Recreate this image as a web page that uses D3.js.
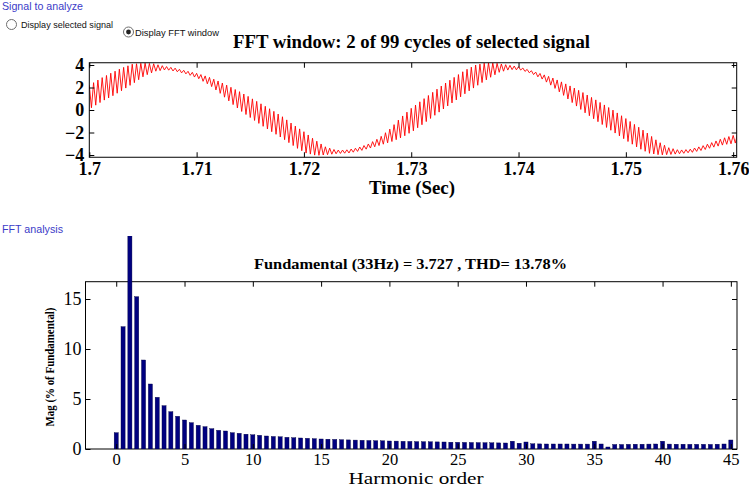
<!DOCTYPE html>
<html><head><meta charset="utf-8">
<script src="https://cdn.jsdelivr.net/npm/d3@7"></script>
<style>html,body{margin:0;padding:0;background:#fff;overflow:hidden}</style>
</head><body>
<svg id="c" width="749" height="488"></svg>
<script>
// ---------- data ----------
const rippleStepMs = 0.4;   // one ripple per 0.4 ms, peak then trough
const ripplePeaks = [
 2.20,2.43,2.66,2.88,3.07,3.27,3.45,3.63,3.79,3.93,
 4.07,4.11,4.15,4.16,4.14,4.11,4.02,3.94,3.86,3.79,
 3.72,3.62,3.53,3.44,3.35,3.26,3.15,3.03,2.90,2.74,
 2.58,2.40,2.21,2.02,1.82,1.63,1.42,1.21,0.99,0.77,
 0.55,0.33,0.11,-0.12,-0.36,-0.60,-0.88,-1.16,-1.43,-1.68,
 -1.93,-2.22,-2.51,-2.77,-3.02,-3.27,-3.39,-3.51,-3.56,-3.56,
 -3.54,-3.47,-3.40,-3.29,-3.16,-3.02,-2.81,-2.60,-2.34,-2.02,
 -1.70,-1.30,-0.90,-0.53,-0.19,0.15,0.44,0.73,1.01,1.29,
 1.57,1.85,2.13,2.40,2.65,2.90,3.15,3.40,3.62,3.81,
 4.00,4.08,4.16,4.19,4.17,4.15,4.09,4.03,3.97,3.91,
 3.85,3.73,3.61,3.49,3.37,3.25,3.12,2.99,2.84,2.67,
 2.50,2.32,2.14,1.95,1.75,1.55,1.33,1.12,0.90,0.67,
 0.45,0.22,-0.01,-0.26,-0.51,-0.76,-1.02,-1.28,-1.53,-1.79,
 -2.05,-2.35,-2.65,-2.91,-3.13,-3.35,-3.44,-3.53,-3.55,-3.52,
 -3.48,-3.38,-3.28,-3.17,-3.04,-2.90,-2.75,-2.60,-2.47,-2.36,
 -2.26,-2.16
];
const rippleTroughs = [
 0.20,0.43,0.66,0.88,1.07,1.27,1.49,1.71,1.95,2.19,
 2.43,2.69,2.95,3.14,3.30,3.45,3.50,3.56,3.54,3.47,
 3.40,3.30,3.21,3.08,2.93,2.78,2.55,2.33,2.08,1.78,
 1.48,1.14,0.81,0.48,0.18,-0.13,-0.40,-0.67,-0.93,-1.19,
 -1.45,-1.69,-1.93,-2.16,-2.40,-2.64,-2.90,-3.16,-3.41,-3.62,
 -3.83,-3.92,-4.01,-4.03,-4.00,-3.97,-3.93,-3.89,-3.86,-3.84,
 -3.82,-3.75,-3.68,-3.59,-3.48,-3.38,-3.27,-3.16,-3.04,-2.92,
 -2.80,-2.64,-2.48,-2.29,-2.07,-1.85,-1.58,-1.31,-1.03,-0.75,
 -0.47,-0.19,0.09,0.36,0.63,0.90,1.17,1.44,1.70,1.95,
 2.20,2.44,2.68,2.91,3.13,3.35,3.45,3.55,3.59,3.57,
 3.55,3.43,3.31,3.15,2.95,2.75,2.48,2.21,1.92,1.61,
 1.30,0.98,0.66,0.35,0.05,-0.25,-0.51,-0.78,-1.04,-1.29,
 -1.55,-1.80,-2.05,-2.30,-2.55,-2.80,-3.04,-3.28,-3.49,-3.67,
 -3.85,-3.91,-3.97,-3.99,-3.97,-3.95,-3.92,-3.89,-3.85,-3.80,
 -3.76,-3.68,-3.60,-3.51,-3.40,-3.30,-3.21,-3.12,-3.05,-3.00,
 -2.94,-2.88
];
const signalStart = 1.7;
const timeTicks = [1.7, 1.71, 1.72, 1.73, 1.74, 1.75, 1.76];
const timeTickLabels = ["1.7", "1.71", "1.72", "1.73", "1.74", "1.75", "1.76"];
const signalTicks = [-4, -2, 0, 2, 4];

const harmonicStep = 0.5;
const harmonicMag = [
 1.63, 12.23, 100, 15.23, 8.90, 6.50, 5.17, 4.33, 3.73, 3.27,
 2.90, 2.63, 2.37, 2.23, 2.03, 1.87, 1.80, 1.63, 1.57, 1.48,
 1.42, 1.37, 1.30, 1.25, 1.22, 1.17, 1.13, 1.10, 1.07, 1.03,
 1.00, 0.98, 0.96, 0.93, 0.91, 0.89, 0.87, 0.85, 0.83, 0.82,
 0.80, 0.79, 0.77, 0.76, 0.74, 0.73, 0.72, 0.71, 0.70, 0.68,
 0.67, 0.66, 0.65, 0.64, 0.63, 0.62, 0.61, 0.60, 0.78, 0.58,
 0.70, 0.52, 0.51, 0.50, 0.50, 0.50, 0.50, 0.49, 0.49, 0.49,
 0.78, 0.50, 0.20, 0.45, 0.45, 0.47, 0.48, 0.48, 0.49, 0.50,
 0.78, 0.49, 0.48, 0.48, 0.47, 0.47, 0.47, 0.46, 0.48, 0.50,
 0.90
];
const harmonicTicks = [0, 5, 10, 15, 20, 25, 30, 35, 40, 45];
const magTicks = [0, 5, 10, 15];

const titleText = "FFT window: 2 of 99 cycles of selected signal";
const fundText = "Fundamental (33Hz) = 3.727 , THD= 13.78%";

// ---------- drawing ----------
const svg = d3.select("#c");
const serif = "'Liberation Serif', 'Times New Roman', serif";
const sans = "'Liberation Sans', Arial, sans-serif";
const uiBlue = "#3c3cc8";

// UI labels
svg.append("text").attr("x", 2).attr("y", 10).attr("font-family", sans).attr("font-size", 11)
  .attr("fill", uiBlue).attr("textLength", 81).attr("lengthAdjust", "spacingAndGlyphs").text("Signal to analyze");
svg.append("circle").attr("cx", 11.5).attr("cy", 24.5).attr("r", 5).attr("fill", "#fff").attr("stroke", "#6e6e6e");
svg.append("text").attr("x", 21).attr("y", 27.5).attr("font-family", sans).attr("font-size", 9)
  .attr("fill", "#111").attr("textLength", 92).attr("lengthAdjust", "spacingAndGlyphs").text("Display selected signal");
svg.append("circle").attr("cx", 128.5).attr("cy", 32).attr("r", 5).attr("fill", "#fff").attr("stroke", "#6e6e6e");
svg.append("circle").attr("cx", 128.5).attr("cy", 32).attr("r", 2.4).attr("fill", "#222");
svg.append("text").attr("x", 135).attr("y", 35.5).attr("font-family", sans).attr("font-size", 9)
  .attr("fill", "#111").attr("textLength", 84).attr("lengthAdjust", "spacingAndGlyphs").text("Display FFT window");
svg.append("text").attr("x", 2).attr("y", 233).attr("font-family", sans).attr("font-size", 11)
  .attr("fill", uiBlue).attr("textLength", 61).attr("lengthAdjust", "spacingAndGlyphs").text("FFT analysis");

// ---------- top chart ----------
const T = {l: 89.3, r: 736.7, t: 62.75, b: 157.25};
const xTime = d3.scaleLinear().domain([1.7, 1.76033]).range([T.l, T.r]);
const ySig = d3.scaleLinear().domain([-4.2, 4.2]).range([T.b, T.t]);

svg.append("defs").append("clipPath").attr("id", "clipTop")
  .append("rect").attr("x", T.l).attr("y", T.t).attr("width", T.r - T.l).attr("height", T.b - T.t);

const pts = [];
ripplePeaks.forEach((p, i) => {
  pts.push({t: signalStart + (i * rippleStepMs) / 1000, v: p});
  pts.push({t: signalStart + ((i + 0.5) * rippleStepMs) / 1000, v: rippleTroughs[i]});
});
svg.append("path").datum(pts).attr("clip-path", "url(#clipTop)")
  .attr("fill", "none").attr("stroke", "#ff0000").attr("stroke-width", 0.9)
  .attr("d", d3.line().x(d => xTime(d.t)).y(d => ySig(d.v)));

svg.append("rect").attr("x", T.l).attr("y", T.t).attr("width", T.r - T.l).attr("height", T.b - T.t)
  .attr("fill", "none").attr("stroke", "#000").attr("stroke-width", 1);

function styleAxis(g, opts) {
  g.select(".domain").remove();
  g.selectAll(".tick line").attr("stroke", "#000").attr("stroke-width", 1);
  g.selectAll(".tick text").attr("font-family", serif).attr("font-size", opts.size)
    .attr("font-weight", opts.weight).attr("fill", "#000");
}
const fmtTime = (d, i) => timeTickLabels[i];
const topXB = svg.append("g").attr("transform", `translate(0,${T.b})`)
  .call(d3.axisBottom(xTime).tickValues(timeTicks).tickFormat(fmtTime).tickSizeInner(-5).tickSizeOuter(0));
styleAxis(topXB, {size: 18, weight: "bold"});
topXB.selectAll(".tick text").attr("y", 18).attr("dy", 0);
svg.append("g").attr("transform", `translate(0,${T.t})`)
  .call(d3.axisTop(xTime).tickValues(timeTicks).tickFormat("").tickSizeInner(-5).tickSizeOuter(0))
  .call(g => styleAxis(g, {size: 0, weight: "bold"}));
const topYL = svg.append("g").attr("transform", `translate(${T.l},0)`)
  .call(d3.axisLeft(ySig).tickValues(signalTicks).tickFormat(d3.format("d")).tickSizeInner(-5).tickSizeOuter(0).tickPadding(5));
styleAxis(topYL, {size: 18, weight: "bold"});
topYL.selectAll(".tick text").attr("dy", "0.33em");
svg.append("g").attr("transform", `translate(${T.r},0)`)
  .call(d3.axisRight(ySig).tickValues(signalTicks).tickFormat("").tickSizeInner(-5).tickSizeOuter(0))
  .call(g => styleAxis(g, {size: 0, weight: "bold"}));

svg.append("text").attr("x", 411.5).attr("y", 48).attr("text-anchor", "middle")
  .attr("font-family", serif).attr("font-weight", "bold").attr("font-size", 18)
  .attr("textLength", 357).attr("lengthAdjust", "spacingAndGlyphs").text(titleText);
svg.append("text").attr("x", 412).attr("y", 194).attr("text-anchor", "middle")
  .attr("font-family", serif).attr("font-weight", "bold").attr("font-size", 18)
  .attr("textLength", 86).attr("lengthAdjust", "spacingAndGlyphs").text("Time (Sec)");

// ---------- bottom chart ----------
const B = {l: 85.5, r: 737, t: 281.7, b: 449};
const xH = d3.scaleLinear().domain([-2.25, 45.45]).range([B.l, B.r]);
const yM = d3.scaleLinear().domain([0, 16.73]).range([B.b, B.t]);

svg.select("defs").append("clipPath").attr("id", "clipBot")
  .append("rect").attr("x", B.l).attr("y", 236).attr("width", B.r - B.l).attr("height", B.b - 236);

svg.append("rect").attr("x", B.l).attr("y", B.t).attr("width", B.r - B.l).attr("height", B.b - B.t)
  .attr("fill", "none").attr("stroke", "#000").attr("stroke-width", 1);

const bars = harmonicMag.map((v, i) => ({h: i * harmonicStep, v}));
const barW = (xH(harmonicStep) - xH(0)) * 0.6;
svg.append("g").attr("clip-path", "url(#clipBot)").selectAll("rect").data(bars).join("rect")
  .attr("x", d => xH(d.h) - barW / 2).attr("width", barW)
  .attr("y", d => yM(d.v)).attr("height", d => yM(0) - yM(d.v))
  .attr("fill", "#000080").attr("stroke", "#000040").attr("stroke-width", 0.4);

const botXB = svg.append("g").attr("transform", `translate(0,${B.b})`)
  .call(d3.axisBottom(xH).tickValues(harmonicTicks).tickFormat(d3.format("d")).tickSizeInner(-5).tickSizeOuter(0));
styleAxis(botXB, {size: 16.5, weight: "normal"});
botXB.selectAll(".tick text").attr("y", 16).attr("dy", 0);
svg.append("g").attr("transform", `translate(0,${B.t})`)
  .call(d3.axisTop(xH).tickValues(harmonicTicks).tickFormat("").tickSizeInner(-5).tickSizeOuter(0))
  .call(g => styleAxis(g, {size: 0, weight: "normal"}));
const botYL = svg.append("g").attr("transform", `translate(${B.l},0)`)
  .call(d3.axisLeft(yM).tickValues(magTicks).tickFormat(d3.format("d")).tickSizeInner(-5).tickSizeOuter(0).tickPadding(4));
styleAxis(botYL, {size: 18, weight: "normal"});
botYL.selectAll(".tick text").attr("dy", "0.33em");
svg.append("g").attr("transform", `translate(${B.r},0)`)
  .call(d3.axisRight(yM).tickValues(magTicks).tickFormat("").tickSizeInner(-5).tickSizeOuter(0))
  .call(g => styleAxis(g, {size: 0, weight: "normal"}));

svg.append("text").attr("x", 410.5).attr("y", 269).attr("text-anchor", "middle")
  .attr("font-family", serif).attr("font-weight", "bold").attr("font-size", 15)
  .attr("textLength", 313).attr("lengthAdjust", "spacingAndGlyphs").text(fundText);
svg.append("text").attr("x", 416).attr("y", 484).attr("text-anchor", "middle")
  .attr("font-family", serif).attr("font-size", 16)
  .attr("textLength", 135).attr("lengthAdjust", "spacingAndGlyphs").text("Harmonic order");
svg.append("text").attr("transform", "translate(54,367) rotate(-90)").attr("text-anchor", "middle")
  .attr("font-family", serif).attr("font-weight", "bold").attr("font-size", 11.5)
  .attr("textLength", 119).attr("lengthAdjust", "spacingAndGlyphs").text("Mag (% of Fundamental)");
</script>
</body></html>
